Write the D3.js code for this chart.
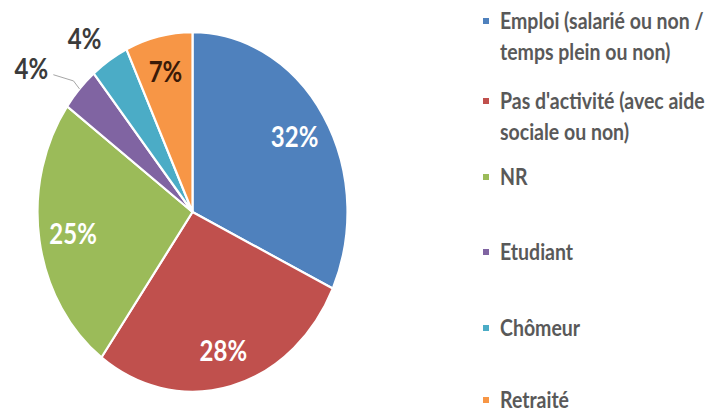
<!DOCTYPE html>
<html>
<head>
<meta charset="utf-8">
<script src="https://cdn.jsdelivr.net/npm/d3@7"></script>
<style>
  html, body { margin: 0; padding: 0; background: #fff; }
  svg { display: block; }
  text { font-family: Lato, "Open Sans", sans-serif; }
</style>
</head>
<body>
<svg id="chart" width="717" height="414"></svg>
<script>
// ---- data ----
const categories = [
  "Emploi (salarié ou non / temps plein ou non)",
  "Pas d'activité (avec aide sociale ou non)",
  "NR",
  "Etudiant",
  "Chômeur",
  "Retraité"
];
const legendLines = [
  ["Emploi (salarié ou non /", "temps plein ou non)"],
  ["Pas d'activité (avec aide", "sociale ou non)"],
  ["NR"],
  ["Etudiant"],
  ["Chômeur"],
  ["Retraité"]
];
const values = [32, 28, 25, 4, 4, 7];
const colors = ["#4F81BD", "#C0504D", "#9BBB59", "#8064A2", "#4BACC6", "#F79646"];

// ---- layout ----
const svg = d3.select("#chart");
const cx = 192.5, cy = 212, r = 155, sy = 1.16; // pie drawn as vertically stretched ellipse
const total = d3.sum(values);

const pie = d3.pie().sort(null).value(d => d)(values);
const arc = d3.arc().innerRadius(0).outerRadius(r);

const g = svg.append("g").attr("transform", `translate(${cx},${cy}) scale(1,${sy})`);
g.selectAll("path").data(pie).join("path")
  .attr("d", arc)
  .attr("fill", (d, i) => colors[i])
  .attr("stroke", "#fff")
  .attr("stroke-width", 2.2)
  .attr("vector-effect", "non-scaling-stroke");

// labels
const labelStyle = [
  { k: 0.78, fill: "#fff" },
  { k: 0.80, fill: "#fff" },
  { k: 0.78, fill: "#fff" },
  { k: 1.31, fill: "#3b3b3b", leader: true, angOff: -0.1 },
  { k: 1.19, fill: "#3b3b3b", angOff: -0.06 },
  { k: 0.80, fill: "#3a1a08" }
];

pie.forEach((d, i) => {
  const st = labelStyle[i];
  const a = (d.startAngle + d.endAngle) / 2 + (st.angOff || 0);
  const lx = cx + st.k * r * Math.sin(a);
  const ly = cy - st.k * r * Math.cos(a) * sy;
  const pct = Math.round(values[i] / total * 100) + "%";
  if (st.leader) {
    const am = (d.startAngle + d.endAngle) / 2;
    const ex = cx + r * Math.sin(am), ey = cy - r * Math.cos(am) * sy;
    svg.append("polyline")
      .attr("points", `${ex},${ey} ${ex - 6},${ey - 8} ${lx + 22},${ly + 6}`)
      .attr("fill", "none").attr("stroke", "#a6a6a6").attr("stroke-width", 1);
  }
  svg.append("text")
    .attr("transform", `translate(${lx},${ly}) scale(1,${sy})`)
    .attr("text-anchor", "middle")
    .attr("dy", "0.36em")
    .attr("font-size", 24)
    .attr("font-weight", 700)
    .attr("fill", st.fill)
    .text(pct);
});

// legend
const legendY = [21, 101, 177, 252, 328, 400];
const lineGap = 31;
const leg = svg.append("g");
legendLines.forEach((lines, i) => {
  const y0 = legendY[i];
  leg.append("rect")
    .attr("x", 483).attr("y", y0 - 3).attr("width", 6).attr("height", 6)
    .attr("fill", colors[i]);
  lines.forEach((t, j) => {
    leg.append("text")
      .attr("transform", `translate(500,${y0 + j * lineGap}) scale(1,${sy})`)
      .attr("dy", "0.36em")
      .attr("font-size", 19.5)
      .attr("font-weight", 700)
      .attr("fill", "#595959")
      .text(t);
  });
});
</script>
</body>
</html>
